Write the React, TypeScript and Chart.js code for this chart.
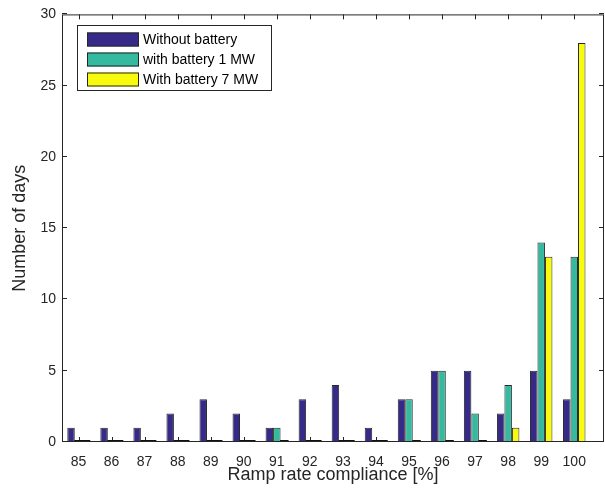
import React, { useEffect, useRef } from 'react';
import { Chart, registerables } from 'chart.js';

Chart.register(...registerables);

const categories = [85, 86, 87, 88, 89, 90, 91, 92, 93, 94, 95, 96, 97, 98, 99, 100];
const withoutBattery = [1, 1, 1, 2, 3, 2, 1, 3, 4, 1, 3, 5, 5, 2, 5, 3];
const battery1MW = [0, 0, 0, 0, 0, 0, 1, 0, 0, 0, 3, 5, 2, 4, 14, 13];
const battery7MW = [0, 0, 0, 0, 0, 0, 0, 0, 0, 0, 0, 0, 0, 1, 13, 28];
const yTicks = [0, 5, 10, 15, 20, 25, 30];
const seriesLabels = ['Without battery', 'with battery 1 MW', 'With battery 7 MW'];
const seriesColors = ['#352a87', '#35b99f', '#f9fb0e'];
const xTitle = 'Ramp rate compliance [%]';
const yTitle = 'Number of days';

const FONT = '"Liberation Sans", Arial, Helvetica, sans-serif';
const AXIS_COLOR = '#262626';

const axesBoxPlugin = {
  id: 'axesBox',
  beforeDatasetsDraw(chart: any) {
    const { ctx, chartArea: a, scales } = chart;
    const L = 5;
    ctx.save();
    ctx.strokeStyle = AXIS_COLOR;
    ctx.lineWidth = 1;
    ctx.beginPath();
    scales.x.ticks.forEach((t: any) => {
      const px = Math.round(scales.x.getPixelForValue(t.value)) + 0.5;
      ctx.moveTo(px, a.bottom);
      ctx.lineTo(px, a.bottom - L);
      ctx.moveTo(px, a.top);
      ctx.lineTo(px, a.top + L);
    });
    scales.y.ticks.forEach((t: any) => {
      const py = Math.round(scales.y.getPixelForValue(t.value)) - 0.5;
      ctx.moveTo(a.left, py);
      ctx.lineTo(a.left + L, py);
      ctx.moveTo(a.right, py);
      ctx.lineTo(a.right - L, py);
    });
    ctx.stroke();
    ctx.restore();
  },
  afterDatasetsDraw(chart: any) {
    const { ctx, chartArea: a } = chart;
    ctx.save();
    // zero-height bars drawn as edge lines on the baseline
    ctx.strokeStyle = '#111111';
    ctx.lineWidth = 2;
    ctx.beginPath();
    chart.data.datasets.forEach((ds: any, i: number) => {
      const meta = chart.getDatasetMeta(i);
      meta.data.forEach((bar: any, j: number) => {
        const v = ds.data[j].y;
        if (v === 0) {
          const { x, width } = bar.getProps(['x', 'width'], true);
          ctx.moveTo(x - width / 2 - 0.5, a.bottom - 1);
          ctx.lineTo(x + width / 2 + 0.5, a.bottom - 1);
        }
      });
    });
    ctx.stroke();
    // axes box
    ctx.strokeStyle = AXIS_COLOR;
    ctx.lineWidth = 1;
    ctx.strokeRect(a.left + 0.5, a.top + 0.5, a.right - a.left - 1, a.bottom - a.top - 1);
    ctx.restore();
  },
  afterDraw(chart: any) {
    const { ctx } = chart;
    ctx.save();
    const bx = 77.5, by = 25.5, bw = 194, bh = 65;
    ctx.fillStyle = '#ffffff';
    ctx.fillRect(bx, by, bw, bh);
    ctx.strokeStyle = '#262626';
    ctx.lineWidth = 1;
    ctx.strokeRect(bx, by, bw, bh);
    const rowCenters = [39.5, 59.5, 79.5];
    ctx.font = `14px ${FONT}`;
    ctx.textBaseline = 'middle';
    ctx.textAlign = 'left';
    chart.data.datasets.forEach((ds: any, i: number) => {
      const cy = rowCenters[i];
      ctx.fillStyle = ds.backgroundColor;
      ctx.fillRect(87, cy - 7, 52, 14);
      ctx.strokeStyle = '#262626';
      ctx.strokeRect(87.5, cy - 6.5, 51, 13);
      ctx.fillStyle = '#000000';
      ctx.fillText(ds.label, 143, cy + 0.5);
    });
    ctx.restore();
  },
};

export default function App() {
  const canvasRef = useRef<HTMLCanvasElement | null>(null);

  useEffect(() => {
    document.body.style.margin = '0';
    const canvas = canvasRef.current;
    if (!canvas) return;
    const makeData = (vals: number[]) => categories.map((c, i) => ({ x: c, y: vals[i] }));
    const series = [withoutBattery, battery1MW, battery7MW];
    const chart = new Chart(canvas, {
      type: 'bar',
      data: {
        datasets: series.map((vals, i) => ({
          label: seriesLabels[i],
          data: makeData(vals),
          backgroundColor: seriesColors[i],
          borderColor: '#2a2a2a',
          borderWidth: 1,
          borderSkipped: false,
          categoryPercentage: 0.68,
          barPercentage: 1.0,
        })),
      },
      options: {
        responsive: false,
        animation: false,
        devicePixelRatio: 1,
        layout: { padding: { left: 0, top: 11, right: 1, bottom: 0 } },
        plugins: {
          legend: { display: false },
          tooltip: { enabled: false },
        },
        scales: {
          x: {
            type: 'linear',
            offset: false,
            min: 84.5,
            max: 100.9,
            grid: { display: false, drawTicks: false },
            border: { display: false },
            afterBuildTicks: (axis: any) => {
              axis.ticks = categories.map((v) => ({ value: v }));
            },
            afterFit: (axis: any) => {
              axis.height = 54;
            },
            ticks: {
              color: AXIS_COLOR,
              font: { family: FONT, size: 14 },
              padding: 12,
              maxRotation: 0,
              autoSkip: false,
              callback: (v: any) => String(v),
            },
            title: {
              display: true,
              text: xTitle,
              color: AXIS_COLOR,
              font: { family: FONT, size: 18 },
              padding: { top: 0, bottom: 10 },
            },
          },
          y: {
            type: 'linear',
            min: 0,
            max: 30,
            grid: { display: false, drawTicks: false },
            border: { display: false },
            afterBuildTicks: (axis: any) => {
              axis.ticks = yTicks.map((v) => ({ value: v }));
            },
            afterFit: (axis: any) => {
              axis.width = 62;
            },
            ticks: {
              color: AXIS_COLOR,
              font: { family: FONT, size: 14 },
              padding: 6,
              callback: (v: any) => String(v),
            },
            title: {
              display: true,
              text: yTitle,
              color: AXIS_COLOR,
              font: { family: FONT, size: 18 },
              padding: { top: 8.8, bottom: 0 },
            },
          },
        },
      },
      plugins: [axesBoxPlugin],
    } as any);
    return () => {
      chart.destroy();
    };
  }, []);

  return (
    <div style={{ position: 'absolute', left: 0, top: 0, width: 605, height: 496 }}>
      <canvas ref={canvasRef} width={605} height={496} style={{ display: 'block' }} />
    </div>
  );
}
